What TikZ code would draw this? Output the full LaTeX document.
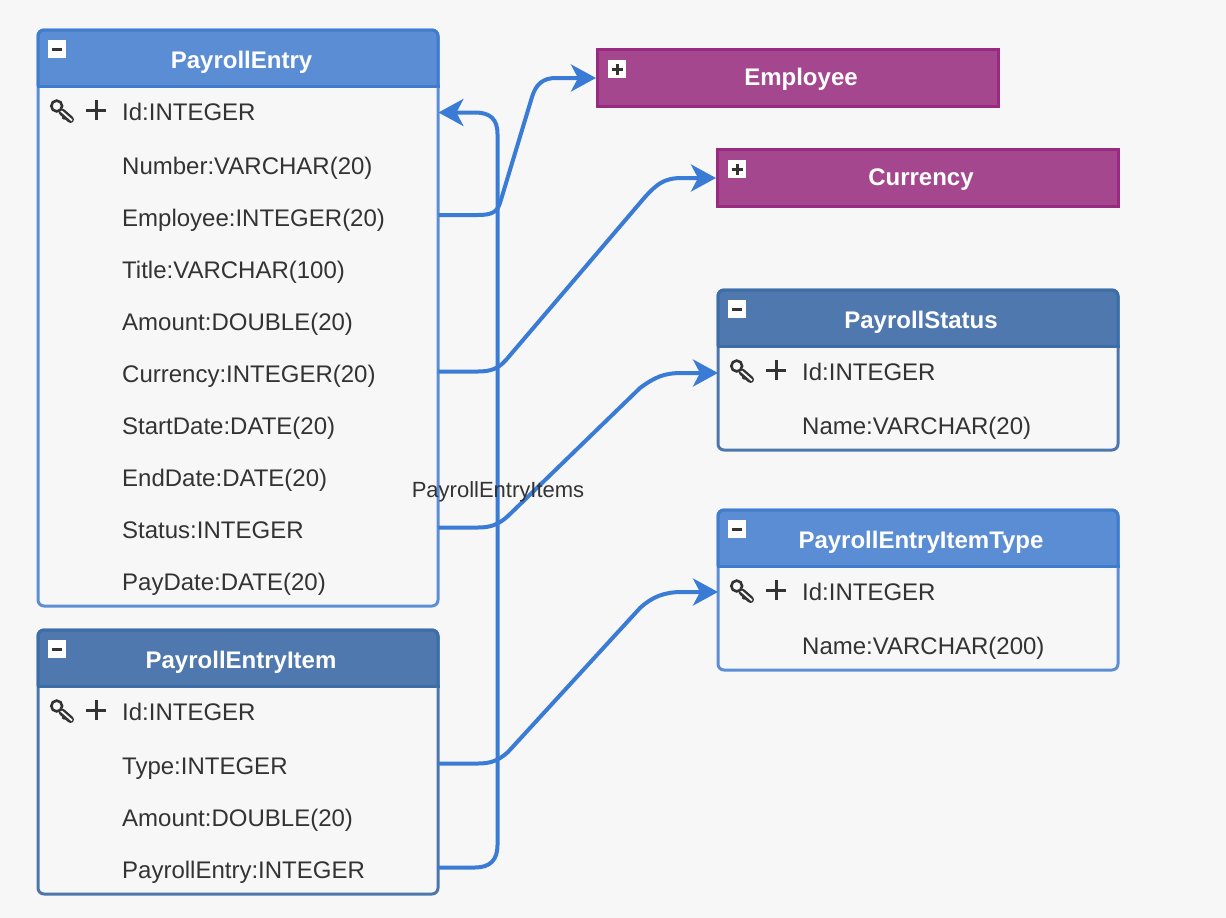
\documentclass[tikz,border=0pt]{standalone}
\usepackage{fontspec}
\setmainfont{Liberation Sans}
\usetikzlibrary{arrows.meta}
\definecolor{bgc}{HTML}{F7F7F7}
\definecolor{linkc}{HTML}{3A7BD5}
\definecolor{lightfill}{HTML}{5A8DD3}
\definecolor{lightedge}{HTML}{5B8ED5}
\definecolor{lightrule}{HTML}{3F7CCB}
\definecolor{darkfill}{HTML}{4F78AE}
\definecolor{darkedge}{HTML}{4C76AC}
\definecolor{darkrule}{HTML}{3D6DA6}
\definecolor{purfill}{HTML}{A5478F}
\definecolor{puredge}{HTML}{982A80}
\definecolor{inkc}{HTML}{333333}
\tikzset{
  x=1pt,y=-1pt,
  rowtext/.style={anchor=base west,inner sep=0pt,font=\fontsize{24}{28}\selectfont,text=inkc,yshift=-1pt},
  titletext/.style={anchor=base,inner sep=0pt,font=\fontsize{24}{28}\selectfont\bfseries,text=white},
  edgelabel/.style={anchor=base,inner sep=0pt,font=\fontsize{22}{26}\selectfont,text=inkc},
  link/.style={draw=linkc,line width=4pt,-{Stealth[length=25pt,width=27pt,inset=7pt]}},
  collapsed/.style={draw=puredge,fill=purfill,line width=3pt,minimum width=401pt,minimum height=57pt,inner sep=0pt,anchor=north west},
}
\newcommand{\minusbox}[2]{%
  \fill[white] (#1,#2) rectangle ++(18,18);
  \draw[inkc,line width=3pt] (#1+4,#2+9) -- (#1+14,#2+9);}
\newcommand{\plusbox}[2]{%
  \fill[white] (#1,#2) rectangle ++(18,18);
  \draw[inkc,line width=3pt] (#1+3.5,#2+9) -- (#1+14.5,#2+9) (#1+9,#2+3.5) -- (#1+9,#2+14.5);}
% key + plus; #1 x of table left, #2 row centre
\newcommand{\keyplus}[2]{%
  \draw[inkc,line width=7pt,line cap=round] (#1+24,#2+1) -- (#1+32.5,#2+8.5);
  \draw[inkc,line width=3pt] (#1+27,#2+5) -- (#1+25,#2+8);
  \draw[bgc,line width=1.8pt] (#1+22,#2-1) -- (#1+34,#2+9.5);
  \draw[inkc,line width=2.6pt,fill=bgc] (#1+18.7,#2-5) circle[radius=5.4];
  \draw[inkc,line width=3pt] (#1+48,#2-1) -- (#1+68,#2-1) (#1+58,#2-11) -- (#1+58,#2+9);}
% table frame: #1 name, #2 x0, #3 y0, #4 x1, #5 y1, #6 header bottom, #7 fill, #8 edge, #9 rule
\newcommand{\tableframe}[9]{%
  \node[draw=none,inner sep=0pt,minimum width={#4-#2},minimum height={#5-#3},anchor=north west] (#1) at (#2,#3) {};
  \begin{scope}
    \clip[rounded corners=6pt] (#2,#3) rectangle (#4,#5);
    \fill[#7] (#2,#3) rectangle (#4,#6);
  \end{scope}
  \draw[#8,line width=3pt,rounded corners=6pt] (#2,#3) rectangle (#4,#5);
  \draw[#9,line width=3pt,rounded corners=6pt] (#2,#6) -- (#2,#3) -- (#4,#3) -- (#4,#6);
  \draw[#9,line width=3pt] (#2-1.5,#6) -- (#4+1.5,#6);
}
\begin{document}
\begin{tikzpicture}
\useasboundingbox (0,0) rectangle (1226,918);
\fill[bgc] (0,0) rectangle (1226,918);

% PayrollEntry
\tableframe{pe}{38}{30}{438}{606}{86}{lightfill}{lightedge}{lightrule}
\minusbox{48}{40}
\node[titletext] (peT) at (241.5,68) {PayrollEntry};
\keyplus{38}{111}
\node[rowtext] (pe1) at (122,119) {Id:INTEGER};
\node[rowtext] (pe2) at (122,173) {Number:VARCHAR(20)};
\node[rowtext] (pe3) at (122,225) {Employee:INTEGER(20)};
\node[rowtext] (pe4) at (122,277) {Title:VARCHAR(100)};
\node[rowtext] (pe5) at (122,329) {Amount:DOUBLE(20)};
\node[rowtext] (pe6) at (122,381) {Currency:INTEGER(20)};
\node[rowtext] (pe7) at (122,433) {StartDate:DATE(20)};
\node[rowtext] (pe8) at (122,485) {EndDate:DATE(20)};
\node[rowtext] (pe9) at (122,537) {Status:INTEGER};
\node[rowtext] (pe10) at (122,589) {PayDate:DATE(20)};

% PayrollEntryItem
\tableframe{pi}{38}{630}{438}{894}{686}{darkfill}{darkedge}{darkrule}
\minusbox{48}{640}
\node[titletext] (piT) at (241,668) {PayrollEntryItem};
\keyplus{38}{711}
\node[rowtext] (pi1) at (122,719) {Id:INTEGER};
\node[rowtext] (pi2) at (122,773) {Type:INTEGER};
\node[rowtext] (pi3) at (122,825) {Amount:DOUBLE(20)};
\node[rowtext] (pi4) at (122,877) {PayrollEntry:INTEGER};

% Employee
\node[collapsed] (emp) at (596,48) {};
\plusbox{608}{60}
\node[titletext] (empT) at (801,85) {Employee};

% Currency
\node[collapsed] (cur) at (716,148) {};
\plusbox{728}{160}
\node[titletext] (curT) at (921,185) {Currency};

% PayrollStatus
\tableframe{ps}{718}{290}{1118}{450}{346}{darkfill}{darkedge}{darkrule}
\minusbox{728}{300}
\node[titletext] (psT) at (921,328) {PayrollStatus};
\keyplus{718}{371}
\node[rowtext] (ps1) at (802,379) {Id:INTEGER};
\node[rowtext] (ps2) at (802,433) {Name:VARCHAR(20)};

% PayrollEntryItemType
\tableframe{pt}{718}{510}{1118}{670}{566}{lightfill}{lightedge}{lightrule}
\minusbox{728}{520}
\node[titletext] (ptT) at (921,548) {PayrollEntryItemType};
\keyplus{718}{591}
\node[rowtext] (pt1) at (802,599) {Id:INTEGER};
\node[rowtext] (pt2) at (802,653) {Name:VARCHAR(200)};

% anchor points on table sides
\coordinate (peId) at (pe.north east |- 0,112.5);
\coordinate (peEmp) at (pe.north east |- 0,215);
\coordinate (peCur) at (pe.north east |- 0,371.5);
\coordinate (peSta) at (pe.north east |- 0,527.5);
\coordinate (piTyp) at (pi.north east |- 0,763.5);
\coordinate (piPay) at (pi.north east |- 0,867.5);
\coordinate (psId) at (ps.north west |- 0,373);
\coordinate (ptId) at (pt.north west |- 0,592);

% connectors
\draw[link] (piPay) -- (475,867.5) .. controls (490,867.5) and (497.5,860) .. (497.5,845) -- (497.5,134) .. controls (497.5,119) and (490,112.5) .. (475,112.5) -- (peId);
\draw[link] (peEmp) -- (478,215) .. controls (492,215) and (497,212) .. (500,203) -- (532,97) .. controls (536,84) and (543,78) .. (556,78) -- (emp.west);
\draw[link] (peCur) -- (478,371.5) .. controls (490,371.5) and (498,369) .. (506,360) -- (645,197) .. controls (657,184) and (664,178) .. (682,178) -- (cur.west);
\draw[link] (peSta) -- (478,527.5) .. controls (490,527.5) and (498,525) .. (508,516) -- (640,388) .. controls (655,377) and (664,373) .. (682,373) -- (psId);
\draw[link] (piTyp) -- (478,763.5) .. controls (490,763.5) and (498,761) .. (508,752) -- (640,608) .. controls (652,597) and (664,592) .. (682,592) -- (ptId);

\node[edgelabel] (lbl) at (498,497) {PayrollEntryItems};
\end{tikzpicture}
\end{document}
